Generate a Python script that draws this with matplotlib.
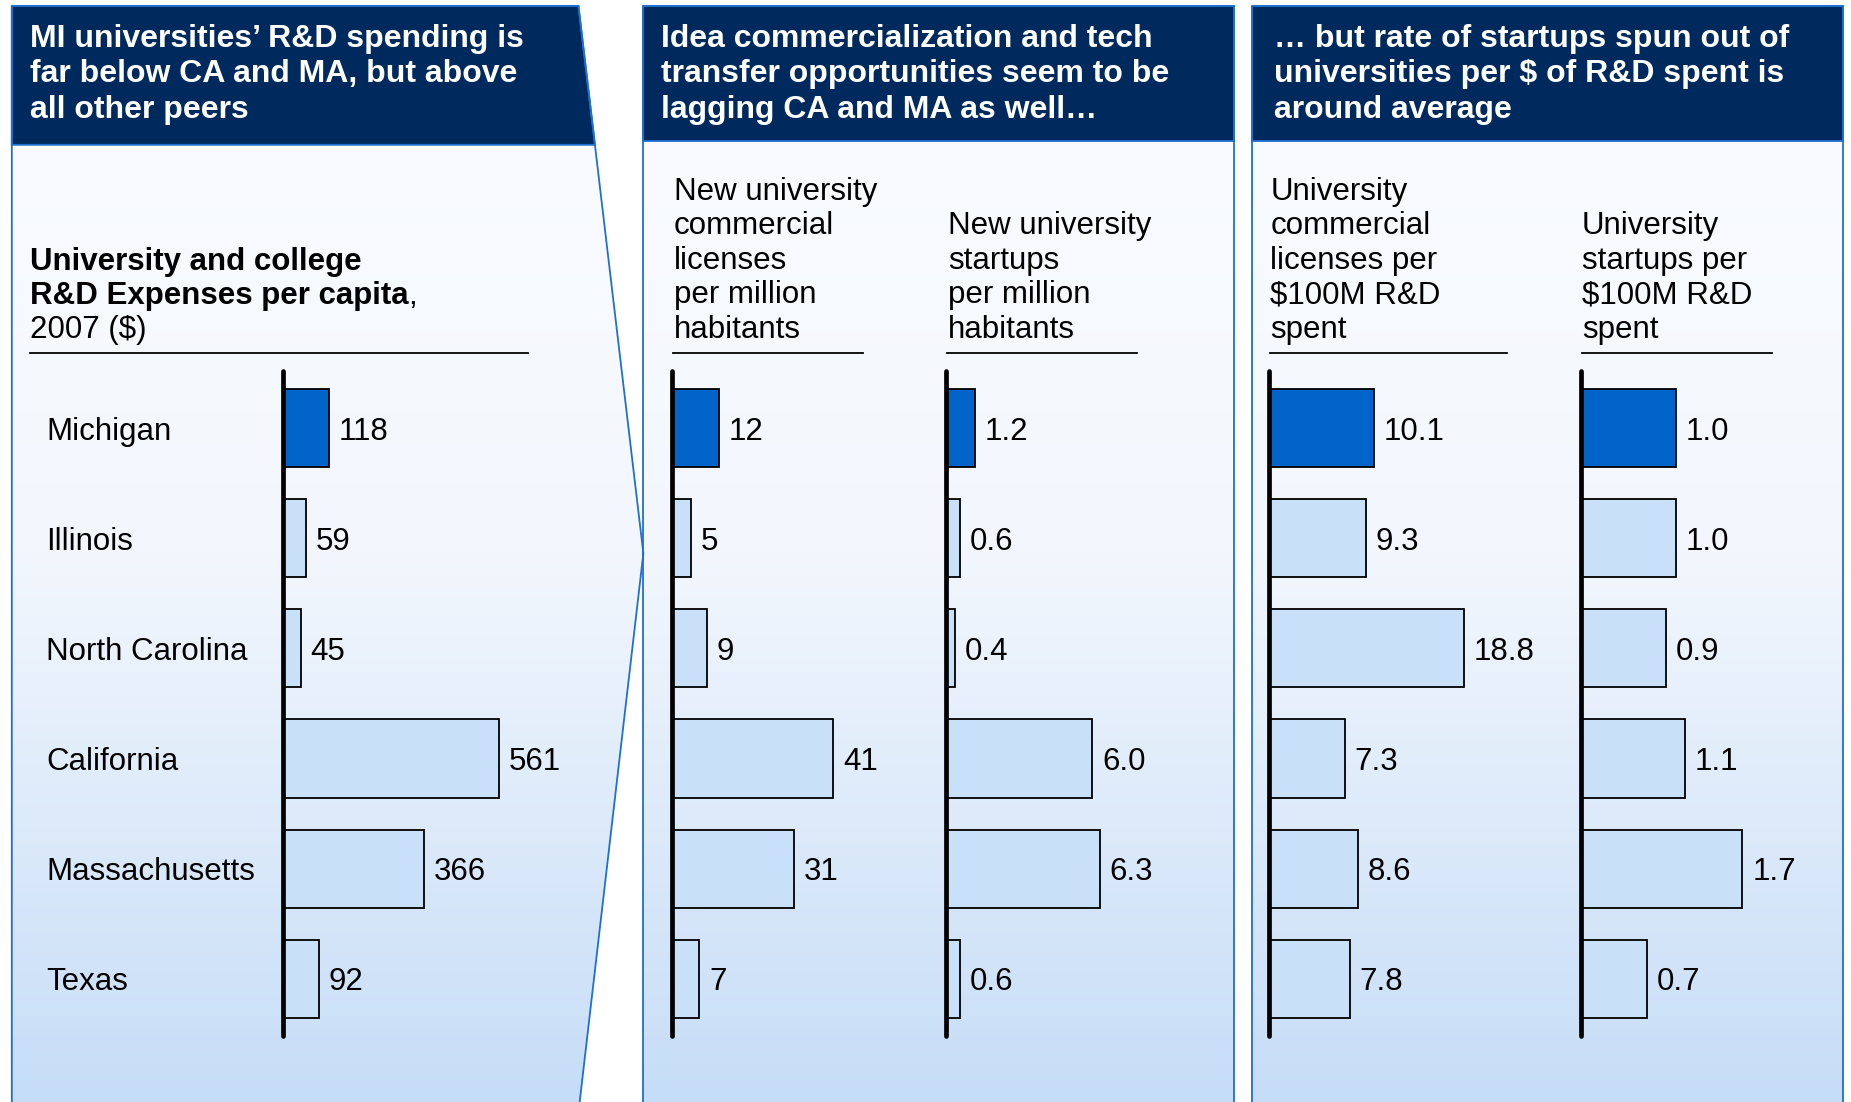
import numpy as np
import matplotlib
matplotlib.use("Agg")
import matplotlib.pyplot as plt
from matplotlib.patches import Polygon
from matplotlib.colors import LinearSegmentedColormap
from matplotlib.transforms import blended_transform_factory

plt.rcParams['font.family'] = ['Liberation Sans', 'DejaVu Sans']

# data
states = ["Michigan", "Illinois", "North Carolina", "California", "Massachusetts", "Texas"]
rd_per_capita = [118, 59, 45, 561, 366, 92]
licenses_per_m = [12, 5, 9, 41, 31, 7]
startups_per_m = [1.2, 0.6, 0.4, 6.0, 6.3, 0.6]
licenses_per_100m = [10.1, 9.3, 18.8, 7.3, 8.6, 7.8]
startups_per_100m = [1.0, 1.0, 0.9, 1.1, 1.7, 0.7]
fmt = ["{:.0f}", "{:.0f}", "{:.1f}", "{:.1f}", "{:.1f}"]

headers = [
    ["MI universities\u2019 R&D spending is", "far below CA and MA, but above", "all other peers"],
    ["Idea commercialization and tech", "transfer opportunities seem to be", "lagging CA and MA as well\u2026"],
    ["\u2026 but rate of startups spun out of", "universities per $ of R&D spent is", "around average"],
]
subtitles = [
    None,
    ["New university", "commercial", "licenses", "per million", "habitants"],
    ["New university", "startups", "per million", "habitants"],
    ["University", "commercial", "licenses per", "$100M R&D", "spent"],
    ["University", "startups per", "$100M R&D", "spent"],
]

# colours / layout (in reference pixel units, 1568 x 936)
NAVY = "#002a5e"
BORDER = "#1f6fd1"
HI = "#0064c8"
LIGHT = "#c8e0f8"
W, H = 1568, 936

fig = plt.figure(figsize=(18.51, 11.02), dpi=100)
bg = fig.add_axes([0, 0, 1, 1])
bg.set_xlim(0, W)
bg.set_ylim(H, 0)
bg.axis('off')

cmap = LinearSegmentedColormap.from_list("panel", ["#fbfcff", "#f3f7fd", "#c6ddf7"])
grad = np.linspace(0, 1, 256).reshape(-1, 1)

panels = [
    [(10, 5), (490, 5), (545, 470), (490, 945), (10, 945)],
    [(545, 5), (1045, 5), (1045, 945), (545, 945)],
    [(1061, 5), (1561, 5), (1561, 945), (1061, 945)],
]
header_shapes = [
    [(10, 5), (490, 5), (504, 123), (10, 123)],
    [(545, 5), (1045, 5), (1045, 120), (545, 120)],
    [(1061, 5), (1561, 5), (1561, 120), (1061, 120)],
]
header_x = [25, 560, 1079]

for pts, hpts, hx, lines in zip(panels, header_shapes, header_x, headers):
    poly = Polygon(pts, closed=True, facecolor='none', edgecolor=BORDER, lw=1.3, zorder=3)
    bg.add_patch(poly)
    im = bg.imshow(grad, extent=(0, W, H, 0), cmap=cmap, aspect='auto', zorder=1)
    im.set_clip_path(poly)
    bg.add_patch(Polygon(hpts, closed=True, facecolor=NAVY, edgecolor=BORDER, lw=1.3, zorder=2))
    for k, line in enumerate(lines):
        bg.text(hx, 40 + 30 * k, line, color='white', fontsize=23, fontweight='bold',
                ha='left', va='baseline', zorder=4)
bg.set_xlim(0, W)
bg.set_ylim(H, 0)

# chart 1 subtitle
bg.text(25, 229, "University and college", fontsize=22.5, fontweight='bold', va='baseline')
t = bg.text(25, 258, "R&D Expenses per capita", fontsize=22.5, fontweight='bold', va='baseline')
bg.annotate(",", xy=(1, 0), xycoords=t, fontsize=22.5, va='bottom', ha='left')
bg.text(25, 287, "2007 ($)", fontsize=22.5, va='baseline')

# bar charts
series = [rd_per_capita, licenses_per_m, startups_per_m, licenses_per_100m, startups_per_100m]
axis_x = [240, 569, 801, 1075, 1339]
px_per_unit = [0.326, 3.34, 20.7, 8.8, 80.6]
text_x = [25, 571, 803, 1076, 1340]
rule = [(25, 447), (570, 731), (802, 963), (1076, 1277), (1340, 1501)]
ax_w = 230
top, bot = 315, 880

for i, vals in enumerate(series):
    ax = fig.add_axes([axis_x[i] / W, 1 - bot / H, ax_w / W, (bot - top) / H])
    ax.patch.set_visible(False)
    y = np.arange(len(vals))
    colors = [HI] + [LIGHT] * (len(vals) - 1)
    ax.barh(y, vals, height=0.71, color=colors, edgecolor='black', lw=1.3, zorder=2)
    ax.set_xlim(0, ax_w / px_per_unit[i])
    ax.set_ylim(len(vals) - 0.48, -0.52)
    for sp in ['top', 'right', 'bottom']:
        ax.spines[sp].set_visible(False)
    ax.spines['left'].set_linewidth(3.4)
    ax.spines['left'].set_capstyle('round')
    ax.spines['left'].set_zorder(3)
    ax.set_xticks([])
    ax.set_yticks([])
    for j, v in enumerate(vals):
        ax.annotate(fmt[i].format(v), (v, j), xytext=(7, 0), textcoords='offset points',
                    fontsize=22.5, va='center_baseline', ha='left')
    if i == 0:
        tr = blended_transform_factory(bg.transData, ax.transData)
        for j, s in enumerate(states):
            ax.text(39, j, s, transform=tr, fontsize=22.5, va='center_baseline', ha='left')
    else:
        lines = subtitles[i]
        n = len(lines)
        for k, line in enumerate(lines):
            bg.text(text_x[i], 287 - 29.3 * (n - 1 - k), line, fontsize=22.5, va='baseline')
    bg.plot(rule[i], [300, 300], color='black', lw=1.3)

fig.savefig("out.png", dpi=100)
